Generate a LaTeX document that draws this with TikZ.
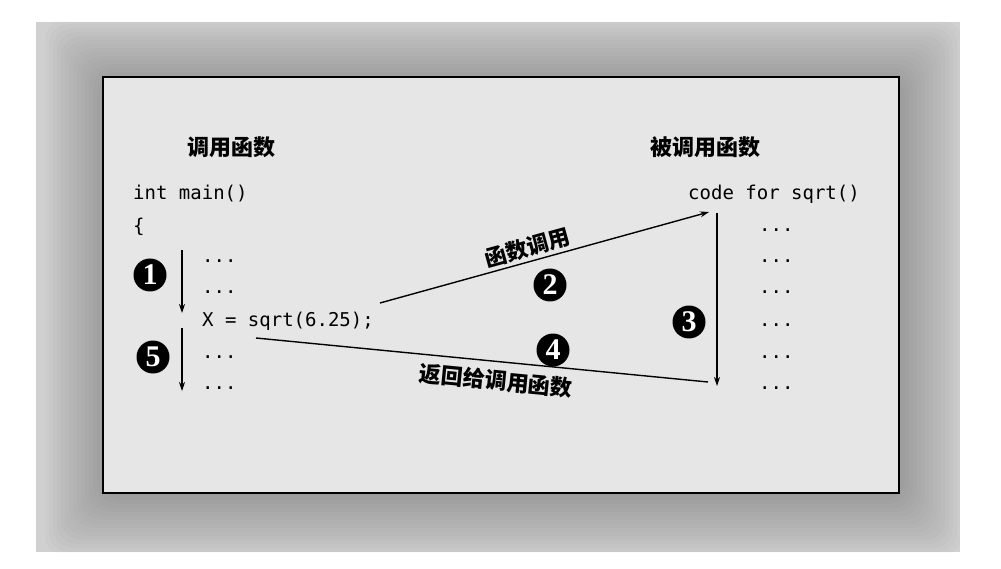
\documentclass[tikz,border=0pt]{standalone}
\usepackage{fontspec}
\setmonofont{DejaVu Sans Mono}
\newfontfamily\cjk{Noto Sans CJK SC}
\newfontfamily\numfont{Liberation Serif}
\usetikzlibrary{arrows.meta}
\definecolor{outerbg}{HTML}{D0D0D0}
\definecolor{innerbg}{HTML}{E6E6E6}
\tikzset{
 code/.style={font=\ttfamily\fontsize{19}{19}\selectfont, inner sep=0pt, anchor=base west},
 title/.style={font=\cjk\bfseries\fontsize{22}{22}\selectfont, inner sep=0pt},
 lbl/.style={font=\cjk\bfseries\fontsize{22}{22}\selectfont, inner sep=0pt, sloped},
 num/.style={circle, fill=black, text=white, inner sep=0pt, minimum size=33pt, font=\numfont\bfseries\fontsize{30}{30}\selectfont},
 flow/.style={line width=1.1pt, -{Stealth[length=9pt,width=6pt]}},
 ret/.style={line width=1.4pt},
}
\begin{document}
\begin{tikzpicture}[x=1pt,y=-1pt]
\useasboundingbox (0,0) rectangle (1001,569);
\fill[white] (0,0) rectangle (1001,569);
\begin{scope}
\clip (36,22) rectangle (960,552);
\fill[outerbg] (36,22) rectangle (960,552);
\foreach \i in {1,...,15}{
  \fill[black, opacity=0.016, rounded corners=20pt] (103-4*\i+2, 77-4*\i+3) rectangle (899+4*\i+2, 493+4*\i+3);
}
\end{scope}
\draw[line width=2pt, fill=innerbg] (103,77) rectangle (899,493);

\node[title] (caller) at (231,147) {调用函数};
\node[title] (callee) at (705,147) {被调用函数};

\node[code] (main) at (133,200) {int main()};
\node[code] (brace) at (133,233) {\{};
\node[code] (l1) at (202,263) {...};
\node[code] (l2) at (202,294) {...};
\node[code] (xline) at (202,326) {X = sqrt(6.25);};
\node[code] (l3) at (202,358) {...};
\node[code] (l4) at (202,389) {...};

\node[code] (sqrt) at (688,200) {code for sqrt()};
\node[code] (r1) at (759,232) {...};
\node[code] (r2) at (759,263) {...};
\node[code] (r3) at (759,294) {...};
\node[code] (r4) at (759,326) {...};
\node[code] (r5) at (759,358) {...};
\node[code] (r6) at (759,389) {...};

\coordinate (a1s) at (182,250); \coordinate (a1e) at (182,313);
\coordinate (a5s) at (182,328); \coordinate (a5e) at (182,391);
\coordinate (cs) at (380,303); \coordinate (ce) at (709,212);
\coordinate (a3s) at (717,213); \coordinate (a3e) at (717,386);
\coordinate (rs) at (256,338); \coordinate (re) at (708,382);

\draw[flow] (a1s) -- (a1e);
\draw[flow] (a5s) -- (a5e);
\draw[flow, line width=1.4pt] (cs) -- (ce) node[lbl, pos=0.46, above=3pt] (lcall) {函数调用};
\draw[flow] (a3s) -- (a3e);
\draw[ret] (rs) -- (re) node[lbl, pos=0.535, below=8pt] (lret) {返回给调用函数};

\node[num] (n1) at (150,275) {1};
\node[num] (n2) at (550,285) {2};
\node[num] (n3) at (689,322) {3};
\node[num] (n4) at (553,350) {4};
\node[num] (n5) at (153,357) {5};
\end{tikzpicture}
\end{document}
